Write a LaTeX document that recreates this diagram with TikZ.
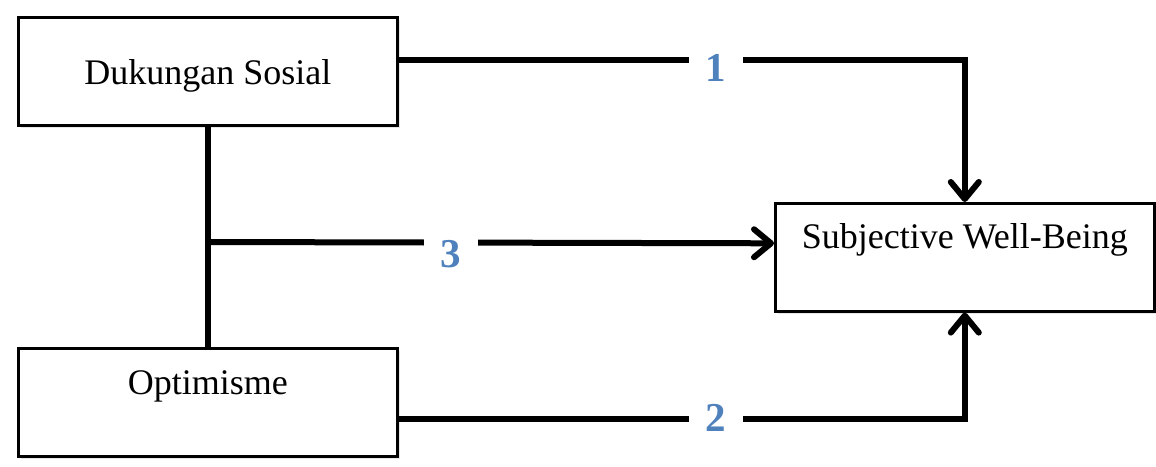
\documentclass[tikz,border=0pt]{standalone}
\usepackage{fontspec}
\setmainfont{Liberation Serif}
\usetikzlibrary{arrows.meta,shadows}
\definecolor{numblue}{HTML}{4F81BD}
\tikzset{
  var/.style={draw, line width=1.3pt, fill=white, anchor=north west,
    minimum width=189.5pt, minimum height=54pt, inner xsep=0pt, inner ysep=0pt,
    font=\fontsize{18}{21}\selectfont,
    drop shadow={shadow xshift=1.5pt, shadow yshift=-1.5pt, opacity=0.2}},
  link/.style={line width=3pt, line cap=butt, line join=miter},
  tip/.style={-{Straight Barb[length=8.5pt,width=14pt,line join=round,line cap=round]}},
  num/.style={fill=white, text=numblue, minimum width=27pt, inner ysep=2pt,
    font=\fontsize{20.5}{24}\bfseries}
}
\begin{document}
\begin{tikzpicture}[x=0.5pt,y=-0.5pt]
\useasboundingbox (0,0) rectangle (1156,466);
% the three variables
\node[var, text height=33.5pt, text depth=20.5pt] (ds) at (17,16) {Dukungan Sosial};
\node[var, text height=23pt, text depth=31pt] (op) at (17,347) {Optimisme};
\node[var, text height=22.5pt, text depth=31.5pt] (sw) at (774,202) {Subjective Well-Being};
\coordinate (j3) at (207,242);
% paths
\draw[link, tip] ([yshift=5.5pt]ds.east) -| (sw.north);
\draw[link] (ds.south) -- (op.north);
\draw[link, tip] (j3) -- ([yshift=7pt]sw.west);
\draw[link, tip] ([yshift=-8.5pt]op.east) -| (sw.south);
% numbers on the paths
\node[num] (n1) at (716,68) {1};
\node[num] (n3) at (451,254) {3};
\node[num] (n2) at (716,418) {2};
\end{tikzpicture}
\end{document}
